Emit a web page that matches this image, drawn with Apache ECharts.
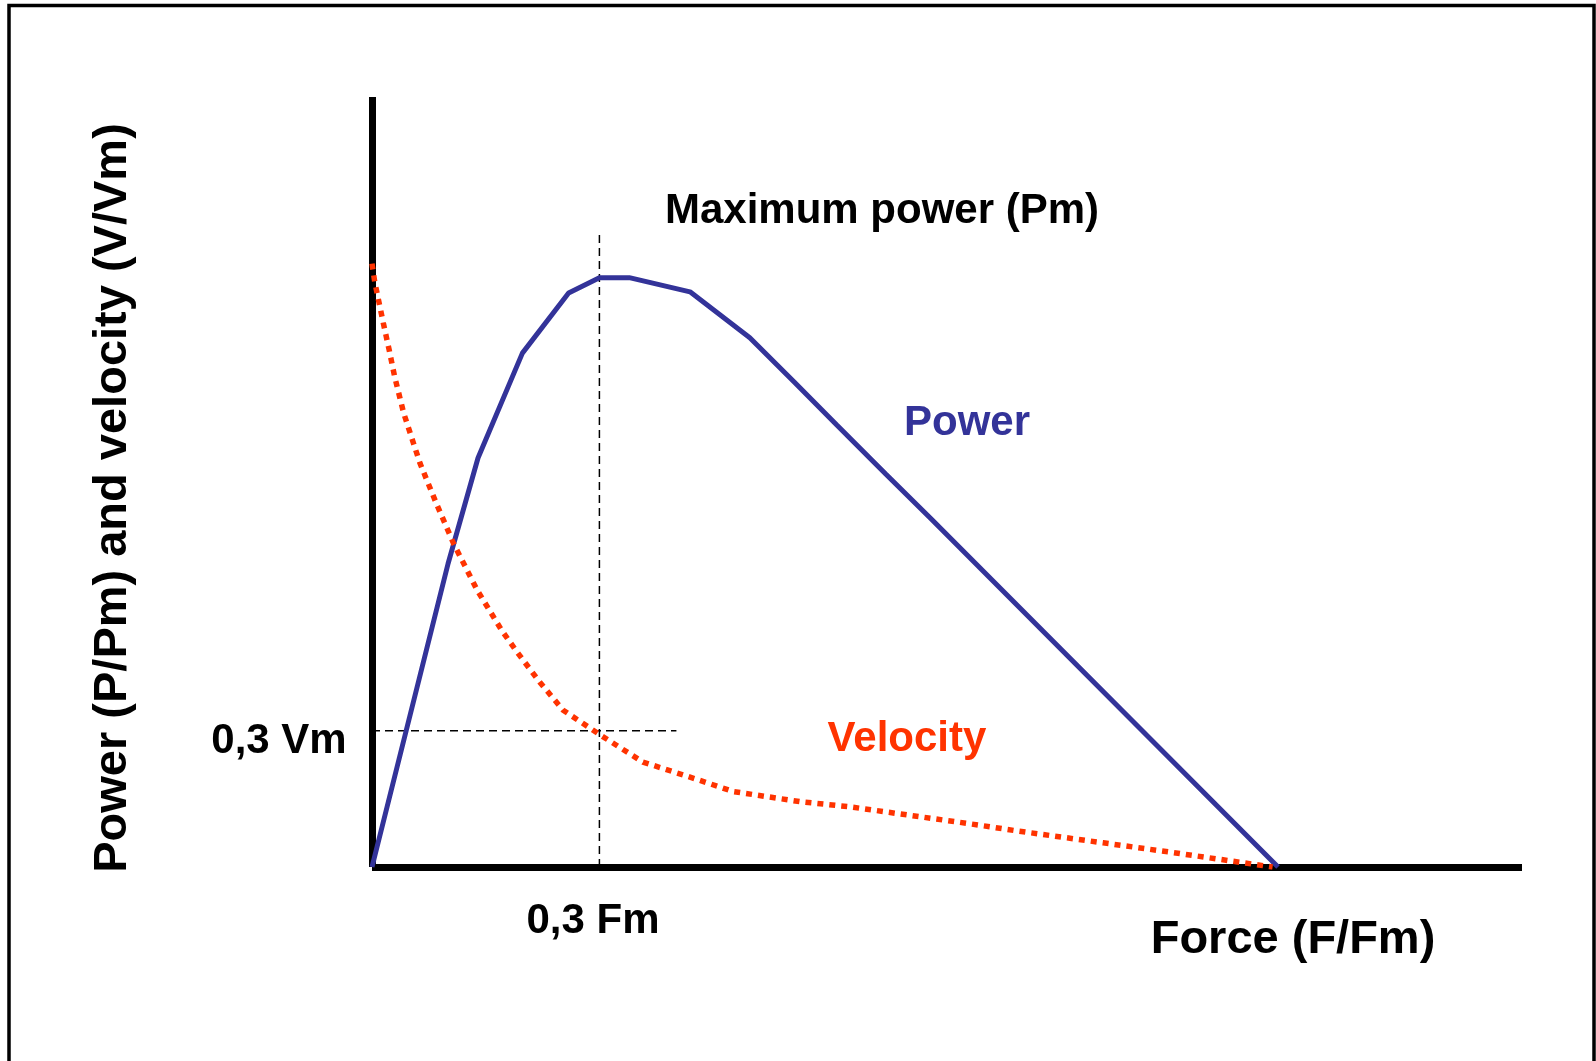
<!DOCTYPE html>
<html>
<head>
<meta charset="utf-8">
<title>Power and velocity vs force</title>
<script src="https://cdn.jsdelivr.net/npm/echarts@6/dist/echarts.min.js"></script>
<style>
  html, body { margin: 0; padding: 0; background: #fff; }
  #chart { width: 1596px; height: 1061px; }
</style>
</head>
<body>
<div id="chart"></div>
<script>
// Force (F/Fm) on x, power (P/Pm) and velocity (V/Vm) on y.
const powerF = [0, 0.084, 0.117, 0.166, 0.217, 0.251, 0.284, 0.351, 0.417, 0.466, 0.513, 0.567, 0.617, 1.0];
const powerP = [0, 0.515, 0.694, 0.872, 0.974, 1.0, 1.0, 0.976, 0.898, 0.823, 0.750, 0.667, 0.591, 0];

const velocityF = [0, 0.003, 0.0125, 0.019, 0.025, 0.035, 0.053, 0.071, 0.090, 0.116, 0.143, 0.160, 0.185,
                   0.211, 0.252, 0.299, 0.344, 0.399, 0.472, 0.528, 0.657, 0.713, 0.807, 0.882, 0.994];
const velocityV = [1.024, 0.993, 0.923, 0.877, 0.832, 0.770, 0.685, 0.617, 0.549, 0.470, 0.402, 0.365, 0.314,
                   0.266, 0.224, 0.178, 0.156, 0.128, 0.111, 0.102, 0.074, 0.061, 0.041, 0.025, 0.0];

// guide lines at the optimum (labelled 0,3 Fm / 0,3 Vm on the figure)
const optF = 0.251;
const optV = 0.231;
const guideTop = 1.074;
const guideRight = 0.336;

const xMax = 1.2693;
const yMax = 1.3066;

const BLUE = "#333399";
const RED = "#ff3300";
const FONT = "'Liberation Sans', Arial, sans-serif";

const zip = (xs, ys) => xs.map((x, i) => [x, ys[i]]);

function label(text, x, y, size, color, rotation) {
  return {
    type: "text", x: x, y: y, rotation: rotation || 0, z: 10,
    style: {
      text: text, fill: color || "#000", font: "bold " + size + "px " + FONT,
      align: "center", verticalAlign: "middle"
    }
  };
}

const chart = echarts.init(document.getElementById("chart"), null, { renderer: "canvas" });
chart.setOption({
  animation: false,
  backgroundColor: "#fff",
  grid: { left: 372, right: 74, top: 97, bottom: 194 },
  xAxis: {
    type: "value", min: 0, max: xMax,
    axisLine: { show: true, onZero: false, lineStyle: { color: "#000", width: 7, cap: "butt" } },
    axisTick: { show: false }, axisLabel: { show: false }, splitLine: { show: false }
  },
  yAxis: {
    type: "value", min: 0, max: yMax,
    axisLine: { show: true, onZero: false, lineStyle: { color: "#000", width: 7, cap: "butt" } },
    axisTick: { show: false }, axisLabel: { show: false }, splitLine: { show: false }
  },
  series: [
    {
      name: "guide F", type: "line", symbol: "none", z: 1,
      data: [[optF, 0], [optF, guideTop]],
      lineStyle: { color: "#000", width: 1.5, type: [8, 5] }
    },
    {
      name: "guide V", type: "line", symbol: "none", z: 1,
      data: [[0, optV], [guideRight, optV]],
      lineStyle: { color: "#000", width: 1.5, type: [8, 5] }
    },
    {
      name: "Power", type: "line", symbol: "none", z: 3,
      data: zip(powerF, powerP),
      lineStyle: { color: BLUE, width: 5, join: "bevel" }
    },
    {
      name: "Velocity", type: "line", symbol: "none", z: 4,
      data: zip(velocityF, velocityV),
      lineStyle: { color: RED, width: 5.5, type: [6, 6], cap: "butt" }
    }
  ],
  graphic: [
    {
      type: "rect", z: 0, silent: true,
      shape: { x: 9, y: 5.5, width: 1585, height: 1080 },
      style: { fill: null, stroke: "#000", lineWidth: 3.5 }
    },
    label("Maximum power (Pm)", 882, 211.5, 42),
    label("Power", 967, 423, 42, BLUE),
    label("Velocity", 907, 739.5, 42, RED),
    label("0,3 Vm", 279, 741.5, 42),
    label("0,3 Fm", 593, 921, 42),
    label("Force (F/Fm)", 1293, 940.5, 47),
    label("Power (P/Pm) and velocity (V/Vm)", 113, 498, 47, "#000", Math.PI / 2)
  ]
});
</script>
</body>
</html>
